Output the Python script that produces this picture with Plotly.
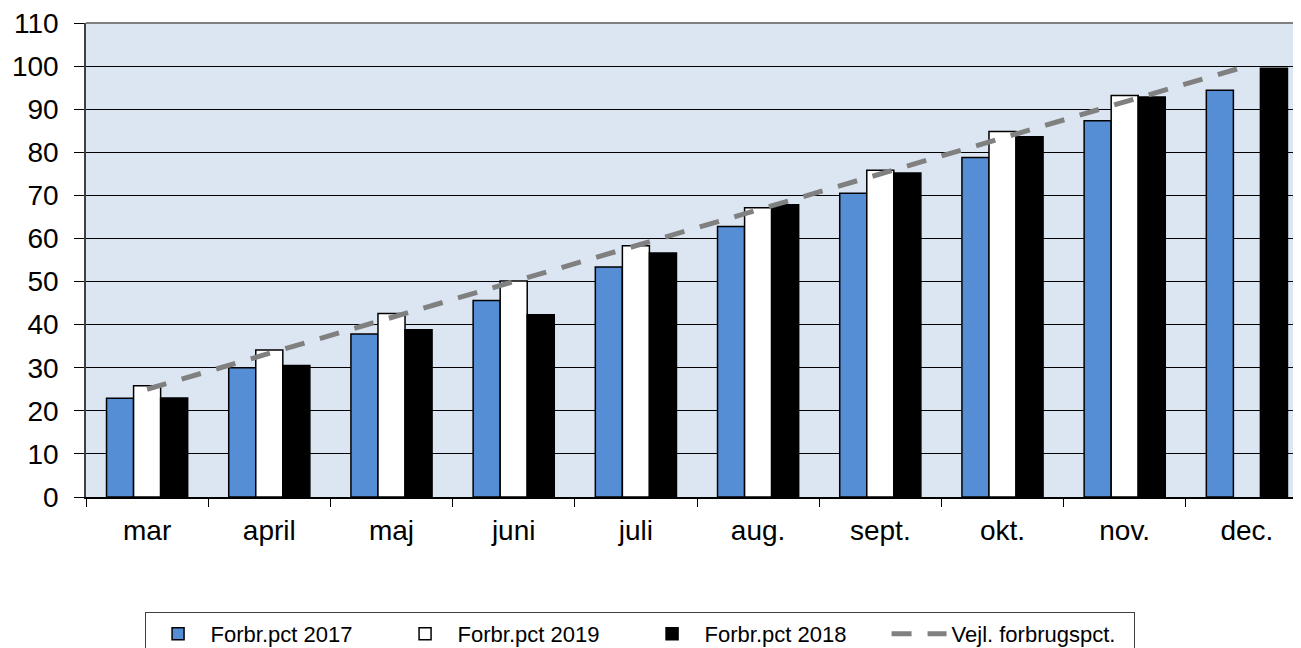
import plotly.graph_objects as go

months = ["mar", "april", "maj", "juni", "juli", "aug.", "sept.", "okt.", "nov.", "dec."]
pct_2017 = [22.9, 30.0, 37.8, 45.6, 53.4, 62.8, 70.5, 78.8, 87.3, 94.4]
pct_2019 = [25.8, 34.1, 42.6, 50.1, 58.3, 67.1, 75.8, 84.8, 93.2, None]
pct_2018 = [23.0, 30.5, 38.8, 42.3, 56.6, 67.8, 75.2, 83.6, 92.8, 99.5]
guide = [25.0, 33.3, 41.7, 50.0, 58.3, 66.7, 75.0, 83.3, 91.7, 100.0]
y_ticks = list(range(0, 111, 10))

FONT = "Liberation Sans, Arial, sans-serif"

fig = go.Figure()
fig.add_trace(go.Bar(x=months, y=pct_2017, name="Forbr.pct 2017",
                     marker=dict(color="#558ED5", line=dict(color="black", width=1.5))))
fig.add_trace(go.Bar(x=months, y=pct_2019, name="Forbr.pct 2019",
                     marker=dict(color="white", line=dict(color="black", width=1.5))))
fig.add_trace(go.Bar(x=months, y=pct_2018, name="Forbr.pct 2018",
                     marker=dict(color="black", line=dict(color="black", width=1.5))))
fig.add_trace(go.Scatter(x=months, y=guide, name="Vejl. forbrugspct.", mode="lines",
                         line=dict(color="#808080", width=5, dash="20px,16px")))

fig.update_layout(
    width=1300, height=652,
    margin=dict(l=78, r=0, t=15, b=163),
    paper_bgcolor="white",
    plot_bgcolor="#DCE6F2",
    barmode="group",
    bargap=0.336,
    bargroupgap=0,
    font=dict(family=FONT, color="black"),
    showlegend=True,
    legend=dict(
        orientation="h",
        x=0.453, xanchor="center",
        y=-0.2426, yanchor="top",
        font=dict(size=22, family=FONT, color="black"),
        bordercolor="#404040", borderwidth=1,
        bgcolor="white",
        itemwidth=55,
        entrywidth=177, entrywidthmode="pixels",
        traceorder="normal",
    ),
    shapes=[dict(type="line", xref="paper", yref="paper", x0=0, x1=1, y0=1, y1=1,
                 line=dict(color="#808080", width=2), layer="above")],
)

fig.update_xaxes(
    type="category",
    range=[-0.5, 9.5],
    tickson="boundaries",
    ticks="outside", ticklen=8, tickcolor="black", tickwidth=1,
    showline=True, linecolor="black", linewidth=1.5,
    showgrid=False,
    tickfont=dict(size=28, family=FONT, color="black"),
    ticklabelstandoff=8,
)
fig.update_yaxes(
    range=[0, 110],
    tickvals=y_ticks,
    ticks="outside", ticklen=10, tickcolor="black", tickwidth=1,
    showline=True, linecolor="#404040", linewidth=1.5,
    showgrid=True, gridcolor="black", gridwidth=1,
    zeroline=False,
    tickfont=dict(size=28, family=FONT, color="black"),
    ticklabelstandoff=10,
    ticklabeloverflow="allow",
)

fig.write_html("out.html")
